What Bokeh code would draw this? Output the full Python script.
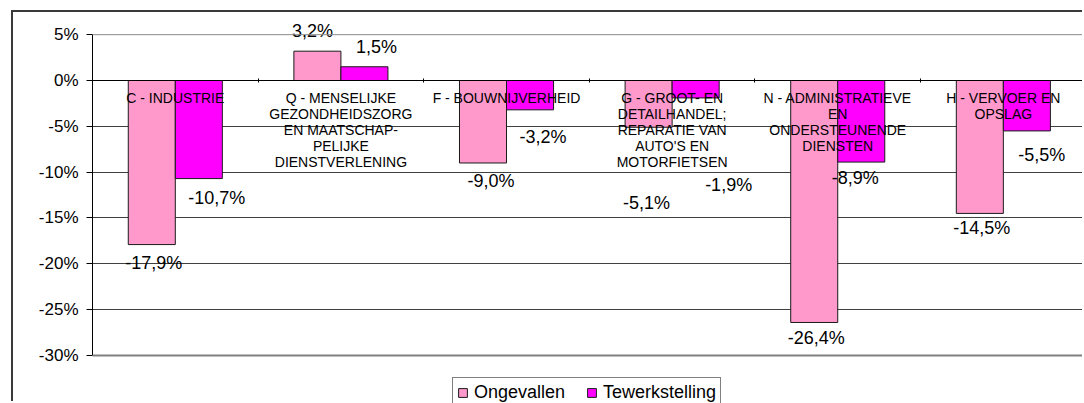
from bokeh.plotting import figure
from bokeh.models import (ColumnDataSource, LabelSet, FixedTicker, PrintfTickFormatter,
                          Range1d, Legend, LegendItem, Span)
from bokeh.transform import dodge
from bokeh.core.properties import value
from bokeh.embed import file_html
from bokeh.resources import INLINE

# ---------------- data ----------------
categories = [
    "C - INDUSTRIE",
    "Q - MENSELIJKE\nGEZONDHEIDSZORG\nEN MAATSCHAP-\nPELIJKE\nDIENSTVERLENING",
    "F - BOUWNIJVERHEID",
    "G - GROOT- EN\nDETAILHANDEL;\nREPARATIE VAN\nAUTO'S EN\nMOTORFIETSEN",
    "N - ADMINISTRATIEVE\nEN\nONDERSTEUNENDE\nDIENSTEN",
    "H - VERVOER EN\nOPSLAG",
]
series_names = ["Ongevallen", "Tewerkstelling"]
ongevallen = [-17.9, 3.2, -9.0, -5.1, -26.4, -14.5]
tewerkstelling = [-10.7, 1.5, -3.2, -1.9, -8.9, -5.5]
y_ticks = [-30, -25, -20, -15, -10, -5, 0, 5]

# ---------------- label styling (screen offsets) ----------------
ong_dx = [2, -5, 8, -2, 2, 2]
ong_dy = [-18, 20, -18, -76, -16, -15]
tew_dx = [18, 12, 13, 33, -6, 15]
tew_dy = [-19, 20, -27, -87, -16, -24]


def fmt(v):
    return ("%.1f%%" % v).replace(".", ",")


FONT = "Liberation Sans"
PINK = "#FF99CC"
MAGENTA = "#FF00FF"

xpos = [i + 0.5 for i in range(len(categories))]
src = ColumnDataSource(dict(
    x=xpos, ong=ongevallen, tew=tewerkstelling,
    ong_lbl=[fmt(v) for v in ongevallen], tew_lbl=[fmt(v) for v in tewerkstelling],
    ong_dx=ong_dx, ong_dy=ong_dy, tew_dx=tew_dx, tew_dy=tew_dy,
))

p = figure(width=1071, height=391, x_range=Range1d(0, 5.99), y_range=Range1d(-35.24, 7.42),
           output_backend="svg", toolbar_location=None,
           min_border_left=79, min_border_right=0, min_border_top=0, min_border_bottom=0)
p.styles = {"position": "relative", "left": "11px", "top": "10px",
            "border-left": "2px solid #3a3a3a", "border-top": "2px solid #3a3a3a"}
p.background_fill_color = "white"
p.border_fill_color = "white"
p.outline_line_color = None

bw = 0.284
off = 0.142
r1 = p.vbar(x=dodge("x", -off, range=p.x_range), top="ong", bottom=0, width=bw, source=src,
            fill_color=PINK, line_color="#1a1a1a", line_width=1)
r2 = p.vbar(x=dodge("x", off, range=p.x_range), top="tew", bottom=0, width=bw, source=src,
            fill_color=MAGENTA, line_color="#1a1a1a", line_width=1)

for col, lbl, dx, dy, o in [("ong", "ong_lbl", "ong_dx", "ong_dy", -off),
                            ("tew", "tew_lbl", "tew_dx", "tew_dy", off)]:
    ls = LabelSet(x=dodge("x", o, range=p.x_range), y=col, text=lbl, x_offset=dx, y_offset=dy,
                  source=src, text_align="center", text_baseline="middle",
                  text_font=value(FONT), text_font_size="18px", text_color="black")
    p.add_layout(ls)

# plot-area border lines (top and bottom of the value range)
p.add_layout(Span(location=y_ticks[-1], dimension="width", line_color="#8a8a8a", line_width=1))
p.add_layout(Span(location=y_ticks[0], dimension="width", line_color="#808080", line_width=2))

# y axis
p.yaxis.ticker = FixedTicker(ticks=y_ticks)
p.yaxis.bounds = (y_ticks[0], y_ticks[-1])
p.yaxis.formatter = PrintfTickFormatter(format="%d%%")
p.yaxis.major_tick_out = 6
p.yaxis.major_tick_in = 0
p.yaxis.minor_tick_line_color = None
p.yaxis.axis_line_color = "black"
p.yaxis.major_tick_line_color = "black"
p.yaxis.major_label_text_font = FONT
p.yaxis.major_label_text_font_size = "17px"
p.yaxis.major_label_text_color = "black"
p.yaxis.major_label_standoff = 8

# x axis (category axis crossing at 0)
p.xaxis.ticker = FixedTicker(ticks=xpos, minor_ticks=[1, 2, 3, 4, 5])
p.xaxis.major_label_overrides = {x: c for x, c in zip(xpos, categories)}
p.xaxis.fixed_location = 0
p.xaxis.major_tick_line_color = None
p.xaxis.minor_tick_in = 2
p.xaxis.minor_tick_out = 2
p.xaxis.minor_tick_line_color = "black"
p.xaxis.axis_line_color = "black"
p.xaxis.major_label_text_font = FONT
p.xaxis.major_label_text_font_size = "14px"
p.xaxis.major_label_text_color = "black"
p.xaxis.major_label_text_line_height = 1.0
p.xaxis.major_label_standoff = 3

# grid
p.xgrid.visible = False
p.ygrid.ticker = FixedTicker(ticks=y_ticks[1:-1])
p.ygrid.grid_line_color = "#404040"
p.ygrid.grid_line_width = 1

legend = Legend(items=[LegendItem(label=series_names[0], renderers=[r1]),
                       LegendItem(label=series_names[1], renderers=[r2])],
                location=(360, -5), orientation="horizontal")
legend.label_text_font = FONT
legend.label_text_font_size = "18px"
legend.label_text_color = "black"
legend.glyph_width = 11
legend.glyph_height = 11
legend.label_standoff = 6
legend.label_width = 98
legend.spacing = 14
legend.padding = 4
legend.margin = 0
legend.border_line_color = "black"
legend.border_line_width = 1
legend.background_fill_color = "white"
legend.background_fill_alpha = 1
p.add_layout(legend)

open("out.html", "w").write(file_html(p, INLINE))
